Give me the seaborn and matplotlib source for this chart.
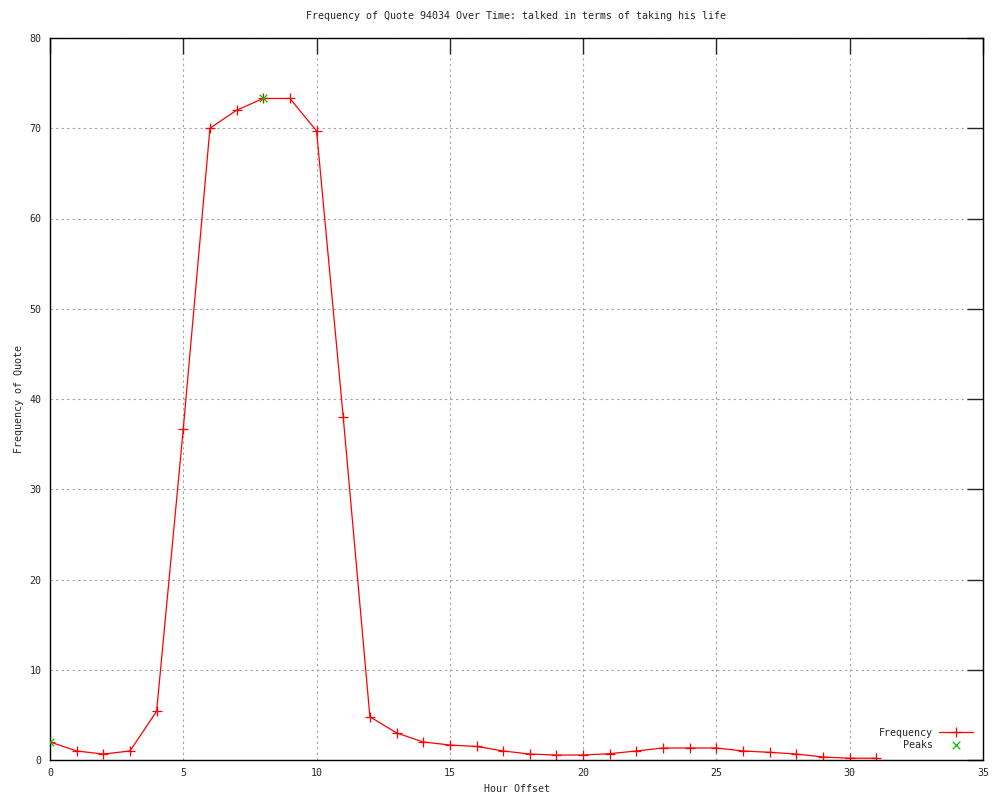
import matplotlib
matplotlib.use("Agg")
import matplotlib.pyplot as plt
import seaborn as sns
import pandas as pd

hours = list(range(32))
frequency = [2.0, 1.0, 0.66, 1.0, 5.4, 36.7, 70.0, 72.0, 73.3, 73.3, 69.7, 38.0,
             4.8, 3.0, 2.0, 1.66, 1.5, 1.0, 0.66, 0.55, 0.55, 0.7, 1.0, 1.33,
             1.33, 1.33, 1.0, 0.85, 0.66, 0.33, 0.2, 0.2]
peak_hours = [0, 8]
peak_values = [2.0, 73.3]

title = "Frequency of Quote 94034 Over Time: talked in terms of taking his life"

sns.set_style("white")
plt.rcParams['font.family'] = ['DejaVu Sans Mono']

fig = plt.figure(figsize=(10, 8), dpi=100)
ax = fig.add_axes([0.05, 0.05, 0.933, 0.9025])

df = pd.DataFrame({"Hour Offset": hours, "Frequency": frequency})
pk = pd.DataFrame({"Hour Offset": peak_hours, "Peaks": peak_values})

sns.lineplot(data=df, x="Hour Offset", y="Frequency", ax=ax, color="#ff0000",
             marker="+", markersize=6.5, markeredgewidth=0.9, markeredgecolor="#ff0000",
             linewidth=0.9, label="Frequency")
sns.scatterplot(data=pk, x="Hour Offset", y="Peaks", ax=ax, color="#00c000",
                marker="x", s=30, linewidth=0.9, label="Peaks", zorder=5)

ax.set_xlim(0, 35)
ax.set_ylim(0, 80)
ax.set_xticks(range(0, 36, 5))
ax.set_yticks(range(0, 81, 10))
ax.grid(True, linestyle=(0, (2, 3)), color="#a0a0a0", linewidth=0.8)
ax.tick_params(direction="in", length=11.5, width=1, top=True, right=True,
               labelsize=7.2, pad=6)
for s in ax.spines.values():
    s.set_color("black")
    s.set_linewidth(1)
ax.set_xlabel("Hour Offset", fontsize=7.2)
ax.set_ylabel("Frequency of Quote", fontsize=7.2)
ax.set_title(title, fontsize=7.2, pad=14)

leg = ax.legend(loc="lower right", frameon=False, fontsize=7.2, markerfirst=False,
                handlelength=3.4, handletextpad=0.6, borderaxespad=0.6,
                labelspacing=0.25)

fig.savefig("out.png", dpi=100)
